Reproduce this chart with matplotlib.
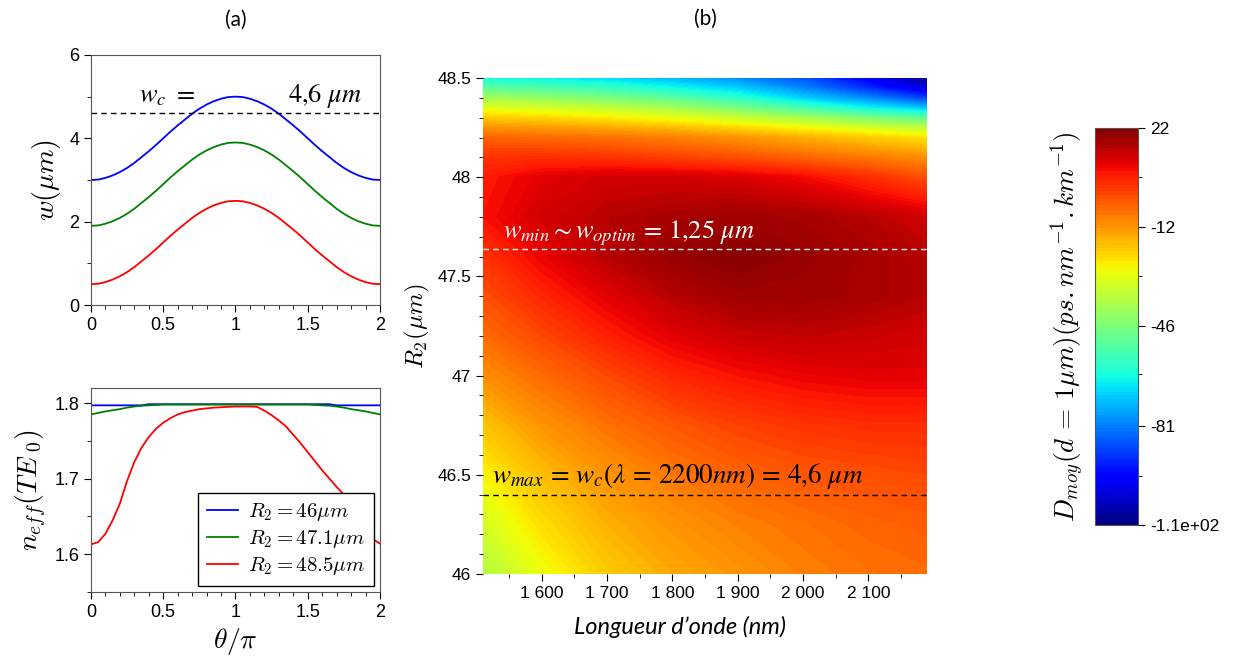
import numpy as np
import matplotlib.pyplot as plt
from matplotlib.ticker import MultipleLocator, FuncFormatter

plt.rcParams['font.family'] = ['Liberation Sans', 'DejaVu Sans']

# --- (a) largeur du guide et indice effectif en fonction de theta/pi ---
theta = [0.0, 0.05, 0.1, 0.15, 0.2, 0.25, 0.3, 0.35, 0.4, 0.45, 0.5,
         0.55, 0.6, 0.65, 0.7, 0.75, 0.8, 0.85, 0.9, 0.95, 1.0,
         1.05, 1.1, 1.15, 1.2, 1.25, 1.3, 1.35, 1.4, 1.45, 1.5,
         1.55, 1.6, 1.65, 1.7, 1.75, 1.8, 1.85, 1.9, 1.95, 2.0]

w_46 = [3.00, 3.01, 3.05, 3.11, 3.19, 3.29, 3.41, 3.55, 3.69, 3.84, 4.00,
        4.16, 4.31, 4.45, 4.59, 4.71, 4.81, 4.89, 4.95, 4.99, 5.00,
        4.99, 4.95, 4.89, 4.81, 4.71, 4.59, 4.45, 4.31, 4.16, 4.00,
        3.84, 3.69, 3.55, 3.41, 3.29, 3.19, 3.11, 3.05, 3.01, 3.00]
w_471 = [1.90, 1.91, 1.95, 2.01, 2.09, 2.19, 2.31, 2.45, 2.59, 2.74, 2.90,
         3.06, 3.21, 3.35, 3.49, 3.61, 3.71, 3.79, 3.85, 3.89, 3.90,
         3.89, 3.85, 3.79, 3.71, 3.61, 3.49, 3.35, 3.21, 3.06, 2.90,
         2.74, 2.59, 2.45, 2.31, 2.19, 2.09, 2.01, 1.95, 1.91, 1.90]
w_485 = [0.50, 0.51, 0.55, 0.61, 0.69, 0.79, 0.91, 1.05, 1.19, 1.34, 1.50,
         1.66, 1.81, 1.95, 2.09, 2.21, 2.31, 2.39, 2.45, 2.49, 2.50,
         2.49, 2.45, 2.39, 2.31, 2.21, 2.09, 1.95, 1.81, 1.66, 1.50,
         1.34, 1.19, 1.05, 0.91, 0.79, 0.69, 0.61, 0.55, 0.51, 0.50]
w_c = 4.6

neff_46 = [1.797, 1.797, 1.797, 1.797, 1.797, 1.797, 1.797, 1.797, 1.7985, 1.7985, 1.7985,
           1.7985, 1.7985, 1.7985, 1.7985, 1.7985, 1.7985, 1.7985, 1.7985, 1.7985, 1.7985,
           1.7985, 1.7985, 1.7985, 1.7985, 1.7985, 1.7985, 1.7985, 1.7985, 1.7985, 1.7985,
           1.7985, 1.7985, 1.7985, 1.797, 1.797, 1.797, 1.797, 1.797, 1.797, 1.797]
neff_471 = [1.785, 1.787, 1.789, 1.7905, 1.792, 1.794, 1.7955, 1.7965, 1.797, 1.7975, 1.798,
            1.798, 1.798, 1.798, 1.798, 1.798, 1.798, 1.798, 1.798, 1.798, 1.798,
            1.798, 1.798, 1.798, 1.798, 1.798, 1.798, 1.798, 1.798, 1.798, 1.798,
            1.7975, 1.797, 1.7965, 1.7955, 1.794, 1.792, 1.7905, 1.789, 1.787, 1.785]
neff_485 = [1.613, 1.616, 1.627, 1.645, 1.667, 1.697, 1.722, 1.741, 1.755, 1.766, 1.774,
            1.780, 1.785, 1.788, 1.790, 1.792, 1.793, 1.794, 1.7945, 1.795, 1.7955,
            1.7955, 1.7955, 1.795, 1.790, 1.784, 1.777, 1.769, 1.758, 1.747, 1.735,
            1.723, 1.711, 1.700, 1.689, 1.679, 1.668, 1.653, 1.635, 1.620, 1.614]

# --- (b) dispersion moyenne D_moy(lambda, R2) ---
lam = [1510, 1600, 1700, 1800, 1900, 2000, 2100, 2190]
r2 = [46.0, 46.25, 46.5, 46.75, 47.0, 47.2, 47.4, 47.6, 47.8, 48.0,
      48.1, 48.2, 48.25, 48.3, 48.35, 48.4, 48.45, 48.5]
D_moy = [
    [-38, -28, -20, -15, -12, -9, -7, -6],
    [-32, -23, -16, -12, -9, -7, -5, -4],
    [-26, -18, -12, -8, -5, -3, -2, -1],
    [-19, -12, -7, -3, 0, 2, 3, 3],
    [-11, -6, -1, 4, 7, 9, 10, 10],
    [-6, -1, 5, 10, 13, 14, 13, 12],
    [-2, 4, 10, 15, 18, 18, 17, 15],
    [2, 9, 15, 19, 21, 19, 17, 15],
    [7, 12, 15, 17, 18, 17, 15, 12],
    [6, 10, 12, 12, 11, 8, 3, -2],
    [2, 3, 2, 0, -2, -5, -8, -11],
    [-5, -6, -7, -9, -12, -16, -20, -24],
    [-12, -13, -15, -18, -22, -27, -32, -36],
    [-20, -22, -25, -29, -34, -40, -47, -52],
    [-30, -32, -35, -40, -47, -56, -65, -72],
    [-40, -43, -47, -52, -60, -70, -80, -90],
    [-52, -54, -58, -64, -70, -80, -92, -104],
    [-64, -66, -69, -73, -79, -87, -100, -113],
]
d_min, d_max = -115, 22
cb_ticks = [22, -12.25, -46.5, -80.75, -115]
cb_labels = ['22', '-12', '-46', '-81', '-1.1e+02']
r2_optim = 47.64
r2_max = 46.40

fig = plt.figure(figsize=(12.41, 6.68), dpi=100)

# (a) haut
ax1 = fig.add_axes([0.0733, 0.5434, 0.2329, 0.3743])
ax1.plot(theta, w_46, color='blue', lw=1.3)
ax1.plot(theta, w_471, color='green', lw=1.3)
ax1.plot(theta, w_485, color='red', lw=1.3)
ax1.axhline(w_c, color='black', ls='--', lw=1, dashes=(4, 3))
ax1.text(0.33, 4.86, r'$w_c\ =$', fontsize=19, math_fontfamily='stix')
ax1.text(1.36, 4.86, r'$4{,}6\ \mu m$', fontsize=19, math_fontfamily='stix')
ax1.set_xlim(0, 2)
ax1.set_ylim(0, 6)
ax1.xaxis.set_major_locator(MultipleLocator(0.5))
ax1.xaxis.set_minor_locator(MultipleLocator(0.1))
ax1.yaxis.set_major_locator(MultipleLocator(2))
ax1.yaxis.set_minor_locator(MultipleLocator(1))
ax1.xaxis.set_major_formatter(FuncFormatter(lambda v, p: f'{v:g}'))
ax1.set_ylabel(r'$w(\mu m)$', fontsize=20, math_fontfamily='cm')
ax1.set_title('(a)', fontsize=15, family='Lato', pad=21)

# (a) bas
ax2 = fig.add_axes([0.0733, 0.1138, 0.2329, 0.3054])
ax2.plot(theta, neff_46, color='blue', lw=1.3, label=r'$R_2 = 46\mu m$')
ax2.plot(theta, neff_471, color='green', lw=1.3, label=r'$R_2 = 47.1\mu m$')
ax2.plot(theta, neff_485, color='red', lw=1.3, label=r'$R_2 = 48.5\mu m$')
ax2.set_xlim(0, 2)
ax2.set_ylim(1.55, 1.82)
ax2.xaxis.set_major_locator(MultipleLocator(0.5))
ax2.xaxis.set_minor_locator(MultipleLocator(0.1))
ax2.yaxis.set_major_locator(MultipleLocator(0.1))
ax2.yaxis.set_minor_locator(MultipleLocator(0.05))
ax2.xaxis.set_major_formatter(FuncFormatter(lambda v, p: f'{v:g}'))
ax2.set_ylabel(r'$n_{eff}(TE_{\ 0})$', fontsize=20, math_fontfamily='cm')
ax2.set_xlabel(r'$\theta/\pi$', fontsize=20, math_fontfamily='cm')
leg = ax2.legend(loc='lower right', prop={'math_fontfamily': 'cm', 'size': 15},
                 fancybox=False, framealpha=1, edgecolor='black', borderaxespad=0.3,
                 handlelength=1.5, handletextpad=0.5, labelspacing=0.25)

for ax in (ax1, ax2):
    ax.tick_params(which='both', direction='out', top=False, right=False, labelsize=13)
    ax.tick_params(which='major', length=5)
    ax.tick_params(which='minor', length=3)
    for s in ax.spines.values():
        s.set_color('#555555')

# (b)
ax3 = fig.add_axes([0.3892, 0.1407, 0.3578, 0.7425])
cs = ax3.contourf(lam, r2, D_moy, levels=np.linspace(d_min, d_max, 120), cmap='jet',
                  vmin=d_min, vmax=d_max)
ax3.axhline(r2_optim, color='white', ls='--', lw=1, dashes=(4, 3))
ax3.axhline(r2_max, color='black', ls='--', lw=1, dashes=(4, 3))
ax3.text(1541, 47.69, r'$w_{min}{\sim}w_{optim}\,=\,1{,}25\ \mu m$', color='white',
         fontsize=19, math_fontfamily='stix')
ax3.text(1524, 46.46, r'$w_{max}\,=\,w_c(\lambda\,=\,2200nm)\,=\,4{,}6\ \mu m$',
         color='black', fontsize=19.5, math_fontfamily='stix')
ax3.set_xlim(1510, 2190)
ax3.set_ylim(46, 48.5)
ax3.xaxis.set_major_locator(MultipleLocator(100))
ax3.xaxis.set_minor_locator(MultipleLocator(50))
ax3.yaxis.set_major_locator(MultipleLocator(0.5))
ax3.yaxis.set_minor_locator(MultipleLocator(0.1))
ax3.xaxis.set_major_formatter(FuncFormatter(lambda v, p: f'{int(v):,}'.replace(',', ' ')))
ax3.yaxis.set_major_formatter(FuncFormatter(lambda v, p: f'{v:g}'))
ax3.tick_params(which='both', direction='out', labelsize=12.5)
ax3.tick_params(which='major', length=5)
ax3.tick_params(which='minor', length=3)
for s in ax3.spines.values():
    s.set_visible(False)
ax3.set_ylabel(r'$R_2(\mu m)$', fontsize=18, math_fontfamily='cm')
ax3.set_xlabel('Longueur d\u2019onde (nm)', fontsize=17, family='Lato', style='italic')
ax3.xaxis.set_label_coords(0.444, -0.085)
ax3.set_title('(b)', fontsize=15, family='Lato', pad=38)

cax = fig.add_axes([0.8824, 0.2141, 0.0347, 0.5943])
cb = fig.colorbar(cs, cax=cax, ticks=cb_ticks)
cb.ax.set_yticklabels(cb_labels)
cb.ax.tick_params(labelsize=12.5, length=5)
cb.ax.set_yticks([5, -29, -63, -98], minor=True)
cb.ax.tick_params(which='minor', length=3)
cb.outline.set_edgecolor('#555555')
cb.ax.yaxis.set_label_position('left')
cb.set_label(r'$D_{moy}(d\,=\,1\mu m)(ps.nm^{-1}.km^{-1})$', fontsize=19.5,
             math_fontfamily='cm', labelpad=6)

fig.savefig('out.png', dpi=100)
